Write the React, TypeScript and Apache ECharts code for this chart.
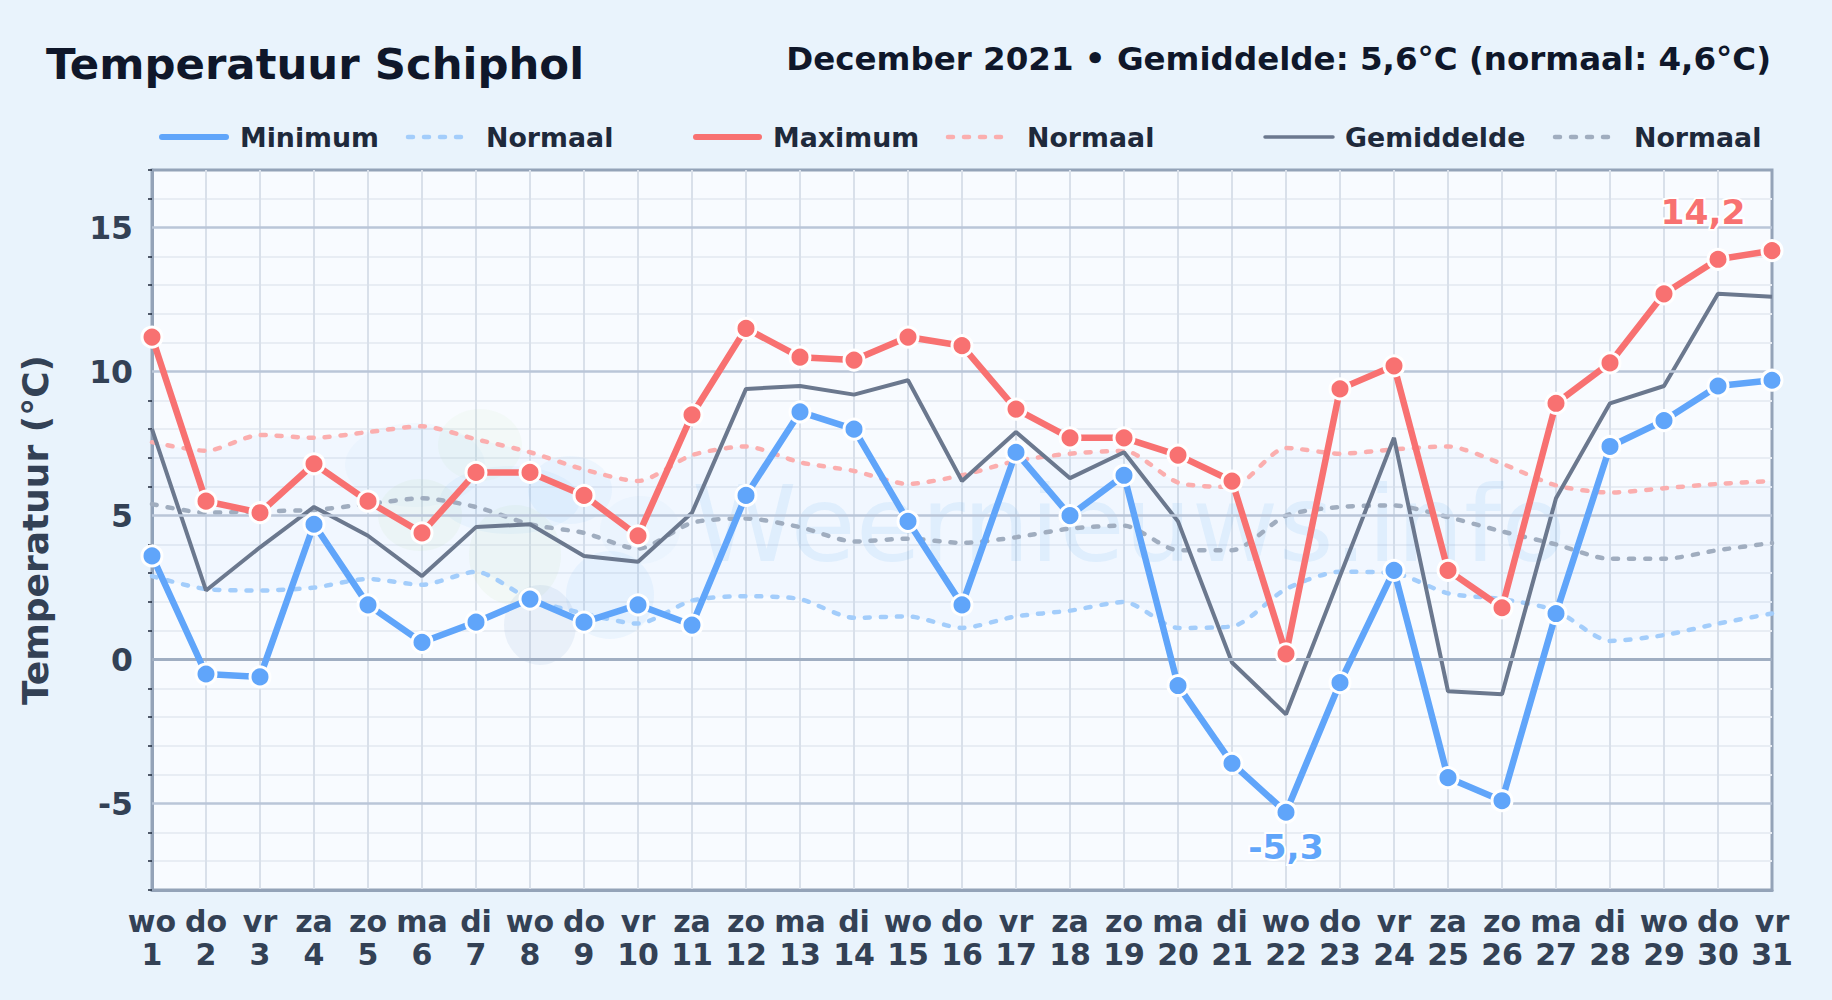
import React, { useEffect, useRef } from "react";
import * as echarts from "echarts";

const weekdays = ["wo","do","vr","za","zo","ma","di","wo","do","vr","za","zo","ma","di","wo","do","vr","za","zo","ma","di","wo","do","vr","za","zo","ma","di","wo","do","vr"];
const days = weekdays.map((d, i) => `${d}\n${i + 1}`);
const minimum = [3.6,-0.5,-0.6,4.7,1.9,0.6,1.3,2.1,1.3,1.9,1.2,5.7,8.6,8.0,4.8,1.9,7.2,5.0,6.4,-0.9,-3.6,-5.3,-0.8,3.1,-4.1,-4.9,1.6,7.4,8.3,9.5,9.7];
const maximum = [11.2,5.5,5.1,6.8,5.5,4.4,6.5,6.5,5.7,4.3,8.5,11.5,10.5,10.4,11.2,10.9,8.7,7.7,7.7,7.1,6.2,0.2,9.4,10.2,3.1,1.8,8.9,10.3,12.7,13.9,14.2];
const gemiddelde = [8.0,2.4,3.9,5.3,4.3,2.9,4.6,4.7,3.6,3.4,5.1,9.4,9.5,9.2,9.7,6.2,7.9,6.3,7.2,4.8,-0.1,-1.9,2.9,7.7,-1.1,-1.2,5.6,8.9,9.5,12.7,12.6];
const normaalMin = [2.9,2.45,2.4,2.5,2.8,2.6,3.05,2.1,1.6,1.25,2.05,2.2,2.1,1.45,1.5,1.1,1.5,1.7,2.0,1.1,1.15,2.45,3.05,3.0,2.3,2.1,1.7,0.65,0.85,1.25,1.6];
const normaalMax = [7.55,7.25,7.8,7.7,7.9,8.1,7.65,7.2,6.6,6.2,7.1,7.4,6.85,6.55,6.1,6.4,6.9,7.15,7.25,6.15,6.0,7.35,7.15,7.3,7.4,6.8,6.05,5.8,5.95,6.1,6.2];
const normaalGem = [5.4,5.1,5.15,5.2,5.4,5.6,5.3,4.7,4.4,3.85,4.75,4.9,4.6,4.1,4.2,4.05,4.25,4.55,4.65,3.8,3.8,5.0,5.3,5.35,4.95,4.45,4.0,3.5,3.5,3.8,4.05];
const majorTicks = [-5, 0, 5, 10, 15];
const minorTicks = [-8,-7,-6,-4,-3,-2,-1,1,2,3,4,6,7,8,9,11,12,13,14,16,17];

const FONT = '"DejaVu Sans"';
const BLUE = "#60A5FA";
const RED = "#F87171";
const GREY = "#6B788E";
const BLUE_N = "#A3CDFB";
const RED_N = "#FBAEAE";
const GREY_N = "#A0ADBF";

const legendItems = [
  { label: "Minimum", color: BLUE, width: 6, dash: false, x1: 162, x2: 226, tx: 240 },
  { label: "Normaal", color: BLUE_N, width: 4.5, dash: true, x1: 408, x2: 462, tx: 486 },
  { label: "Maximum", color: RED, width: 6, dash: false, x1: 696, x2: 759, tx: 773 },
  { label: "Normaal", color: RED_N, width: 4.5, dash: true, x1: 948, x2: 1004, tx: 1027 },
  { label: "Gemiddelde", color: GREY, width: 3.5, dash: false, x1: 1265, x2: 1333, tx: 1345 },
  { label: "Normaal", color: GREY_N, width: 4.5, dash: true, x1: 1555, x2: 1617, tx: 1634 },
];

const blobs = [
  { cx: 480, cy: 445, rx: 42, ry: 36, fill: "rgba(190,220,150,0.07)" },
  { cx: 420, cy: 515, rx: 42, ry: 36, fill: "rgba(190,220,150,0.09)" },
  { cx: 515, cy: 555, rx: 46, ry: 50, fill: "rgba(190,220,150,0.09)" },
  { cx: 415, cy: 465, rx: 70, ry: 42, fill: "rgba(56,150,230,0.03)" },
  { cx: 510, cy: 500, rx: 70, ry: 34, fill: "rgba(56,150,230,0.05)" },
  { cx: 570, cy: 490, rx: 42, ry: 34, fill: "rgba(56,150,230,0.05)" },
  { cx: 610, cy: 595, rx: 44, ry: 44, fill: "rgba(56,150,230,0.06)" },
  { cx: 640, cy: 530, rx: 40, ry: 34, fill: "rgba(56,150,230,0.03)" },
  { cx: 540, cy: 625, rx: 36, ry: 40, fill: "rgba(90,130,190,0.09)" },
];

function dotted(name: string, data: number[], color: string) {
  return {
    name, type: "line", data, smooth: 0.25, symbol: "none", clip: false, z: 3,
    lineStyle: { color, width: 4.5, type: [5, 11], cap: "round" },
  };
}

function solid(name: string, data: any[], color: string) {
  return {
    name, type: "line", data, symbol: "circle", symbolSize: 20, clip: false, z: 5,
    itemStyle: { color, borderColor: "#fff", borderWidth: 3 },
    lineStyle: { color, width: 6.5 },
  };
}

function labelled(values: number[], index: number, text: string, color: string, offset: number[]) {
  return values.map((v, i) =>
    i === index
      ? {
          value: v,
          label: {
            show: true, position: "inside", offset, formatter: text, color,
            fontFamily: FONT, fontWeight: "bold", fontSize: 34.5,
            textBorderColor: "#fff", textBorderWidth: 4,
          },
        }
      : v
  );
}

export default function App() {
  const ref = useRef<HTMLDivElement>(null);
  useEffect(() => {
    const chart = echarts.init(ref.current!, undefined, { renderer: "svg" });
    const graphic: any[] = [
      ...blobs.map((b) => ({
        type: "ellipse", z: 1, silent: true,
        shape: { cx: b.cx, cy: b.cy, rx: b.rx, ry: b.ry }, style: { fill: b.fill },
      })),
      {
        type: "text", z: 1, silent: true, x: 692, y: 524,
        style: { text: "Weernieuws.info", fontFamily: FONT, fontSize: 106, fill: "rgba(56,150,230,0.09)", textVerticalAlign: "middle" },
      },
      {
        type: "text", x: 46, y: 64,
        style: { text: "Temperatuur Schiphol", fontFamily: FONT, fontWeight: "bold", fontSize: 43.4, fill: "#0F172A", textVerticalAlign: "middle" },
      },
      {
        type: "text", x: 1771, y: 59,
        style: { text: "December 2021 • Gemiddelde: 5,6°C (normaal: 4,6°C)", fontFamily: FONT, fontWeight: "bold", fontSize: 32.5, fill: "#0F172A", textAlign: "right", textVerticalAlign: "middle" },
      },
      ...legendItems.flatMap((l) => [
        {
          type: "line",
          shape: { x1: l.x1, y1: 137, x2: l.x2, y2: 137 },
          style: { stroke: l.color, lineWidth: l.width, lineCap: "round", lineDash: l.dash ? [5, 11] : null },
        },
        {
          type: "text", x: l.tx, y: 137,
          style: { text: l.label, fontFamily: FONT, fontWeight: "bold", fontSize: 26.8, fill: "#1E293B", textVerticalAlign: "middle" },
        },
      ]),
    ];
    chart.setOption({
      animation: false,
      backgroundColor: "#E9F3FC",
      grid: { left: 152, right: 60, top: 170, bottom: 110, show: true, backgroundColor: "#F8FBFF", borderWidth: 3, borderColor: "#94A3B8" },
      graphic,
      xAxis: {
        type: "category", data: days, boundaryGap: false,
        axisLine: { onZero: false, lineStyle: { color: "#94A3B8", width: 3 } },
        axisTick: { show: false },
        axisLabel: { interval: 0, color: "#334155", fontFamily: FONT, fontWeight: "bold", fontSize: 30, lineHeight: 33, margin: 15 },
        splitLine: { show: true, interval: 0, showMinLine: false, showMaxLine: false, lineStyle: { color: "#D9E0EA", width: 2 } },
      },
      yAxis: {
        type: "value", min: -8, max: 17,
        name: "Temperatuur (°C)", nameLocation: "middle", nameGap: 99, nameRotate: 90,
        nameTextStyle: { color: "#334155", fontFamily: FONT, fontWeight: "bold", fontSize: 36 },
        axisLine: { show: true, onZero: false, lineStyle: { color: "#94A3B8", width: 3 } },
        axisTick: { show: true, length: 4, customValues: minorTicks, lineStyle: { color: "#1E293B", width: 1.5 } },
        axisLabel: { customValues: majorTicks, color: "#334155", fontFamily: FONT, fontWeight: "bold", fontSize: 31.5, margin: 19 },
        splitLine: { show: true, showMinLine: false, showMaxLine: false, lineStyle: { color: "#E8EDF4", width: 2 } },
      },
      series: [
        {
          name: "band-onder", type: "line", stack: "band", data: normaalMin, smooth: 0.25, symbol: "none", z: 2,
          lineStyle: { opacity: 0 }, areaStyle: { opacity: 0 },
          markLine: {
            silent: true, symbol: "none", label: { show: false },
            data: majorTicks.map((v) => ({
              yAxis: v,
              lineStyle: { type: "solid", color: v === 0 ? "#A0AEC2" : "#BAC6D8", width: v === 0 ? 3 : 2.5 },
            })),
          },
        },
        {
          name: "band", type: "line", stack: "band", data: normaalMax.map((v, i) => +(v - normaalMin[i]).toFixed(2)), smooth: 0.25, symbol: "none", z: 2,
          lineStyle: { opacity: 0 }, areaStyle: { color: "rgba(59,130,246,0.05)" },
        },
        dotted("Normaal", normaalMin, BLUE_N),
        dotted("Normaal", normaalMax, RED_N),
        dotted("Normaal", normaalGem, GREY_N),
        {
          name: "Gemiddelde", type: "line", data: gemiddelde, symbol: "none", clip: false, z: 4,
          lineStyle: { color: GREY, width: 4 },
        },
        solid("Maximum", labelled(maximum, 30, "14,2", RED, [-69, -39]), RED),
        solid("Minimum", labelled(minimum, 21, "-5,3", BLUE, [0, 35]), BLUE),
      ],
    });
    return () => chart.dispose();
  }, []);
  return <div ref={ref} style={{ position: "absolute", left: 0, top: 0, width: 1832, height: 1000 }} />;
}
